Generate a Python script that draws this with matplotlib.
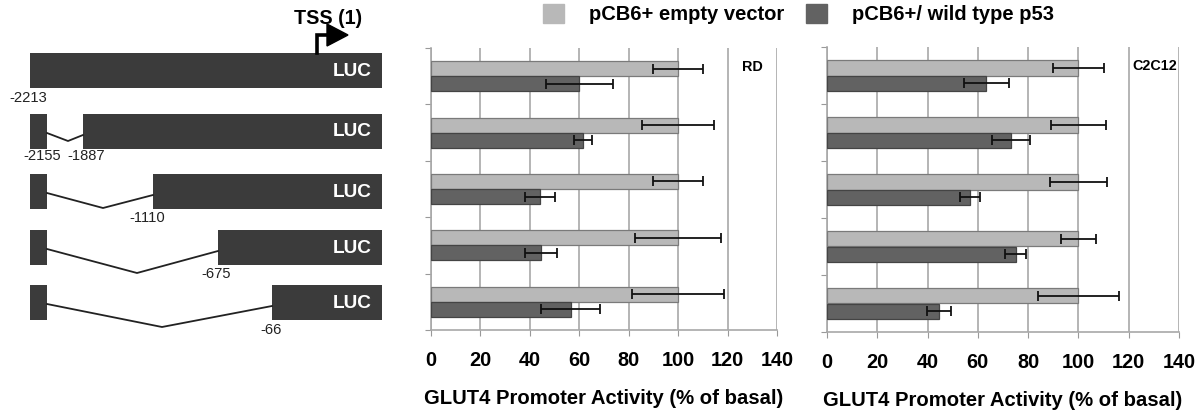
import matplotlib.pyplot as plt
from matplotlib.patches import Rectangle, Polygon

plt.rcParams['font.family'] = ['Liberation Sans', 'DejaVu Sans']

# promoter deletion constructs (schematic, drawn in pixel units of the left panel)
row_y = [70, 131, 191, 247, 302]
block_start = [30, 83, 153, 218, 272]
valley_x = [None, 68, 103, 137, 162]
valley_y = [None, 141, 208, 273, 327]
site_labels = ["-2213", "-2155", "-1887", "-1110", "-675", "-66"]
site_x = [28, 42, 86, 147, 216, 271]
site_y = [98, 156, 156, 218, 274, 330]

# bar chart data
groups = [0, 1, 2, 3, 4]
rd_empty = [100, 100, 100, 100, 100]
rd_empty_err = [10, 14.5, 10, 17.5, 18.7]
rd_p53 = [60, 61.5, 44, 44.5, 56.5]
rd_p53_err = [13.5, 3.5, 6, 6.5, 12]
c2_empty = [100, 100, 100, 100, 100]
c2_empty_err = [10, 11, 11.5, 7, 16]
c2_p53 = [63.3, 73.1, 56.7, 75.1, 44.6]
c2_p53_err = [9, 7.5, 4, 4.2, 4.7]
xticks = [0, 20, 40, 60, 80, 100, 120, 140]

W, H = 1198, 412
fig = plt.figure(figsize=(W / 100, H / 100), dpi=100)

DARK = '#3b3b3b'
LIGHT_BAR = '#b8b8b8'
DARK_BAR = '#626262'

# ---- left schematic ----
ax0 = fig.add_axes([0, 0, 400 / W, 1])
ax0.set_xlim(0, 400)
ax0.set_ylim(H, 0)
ax0.axis('off')
bh = 35
for i, y in enumerate(row_y):
    x0 = block_start[i]
    ax0.add_patch(Rectangle((x0, y - bh / 2), 382 - x0, bh, color=DARK, lw=0))
    ax0.text(372, y + 1, 'LUC', color='white', fontsize=13.7, fontweight='bold',
             ha='right', va='center')
    if i > 0:
        ax0.add_patch(Rectangle((30, y - bh / 2), 17, bh, color=DARK, lw=0))
        ax0.plot([47, valley_x[i], x0], [y + 2, valley_y[i], y + 4],
                 color='#222222', lw=1.3)
for lab, x, y in zip(site_labels, site_x, site_y):
    ax0.text(x, y, lab, fontsize=10.6, ha='center', va='center', color='#222222')

# TSS arrow
ax0.plot([317, 317, 329], [53, 35, 35], color='black', lw=2.6,
         solid_joinstyle='miter')
ax0.add_patch(Polygon([[327, 24], [327, 46], [348, 35]], color='black'))
ax0.text(328, 18, 'TSS (1)', fontsize=14.2, fontweight='bold', ha='center',
         va='center')


def panel(rect, empty, empty_err, p53, p53_err, tag):
    ax = fig.add_axes(rect)
    h = 0.267
    yl = [g - h / 2 for g in groups]
    yd = [g + h / 2 for g in groups]
    ax.barh(yl, empty, height=h, color=LIGHT_BAR, edgecolor='#7a7a7a',
            lw=0.9, zorder=3)
    ax.barh(yd, p53, height=h, color=DARK_BAR, edgecolor='#444444',
            lw=0.9, zorder=3)
    ax.errorbar(empty, yl, xerr=empty_err, fmt='none', ecolor='#111111',
                elinewidth=1.3, capsize=3.5, capthick=1.3, zorder=4)
    ax.errorbar(p53, yd, xerr=p53_err, fmt='none', ecolor='#111111',
                elinewidth=1.3, capsize=3.5, capthick=1.3, zorder=4)
    ax.set_xlim(0, 140)
    ax.set_ylim(4.5, -0.5)
    ax.set_xticks(xticks)
    ax.set_xticklabels([str(t) for t in xticks], fontsize=14.3,
                       fontweight='bold')
    ax.set_yticks([g - 0.5 for g in groups] + [4.5])
    ax.set_yticklabels([])
    ax.tick_params(axis='x', length=4, color='#999999', pad=11)
    ax.tick_params(axis='y', length=4, color='#999999')
    ax.grid(axis='x', color='#a8a8a8', lw=1.2, zorder=0)
    for s in ['top', 'right']:
        ax.spines[s].set_visible(False)
    for s in ['left', 'bottom']:
        ax.spines[s].set_color('#a8a8a8')
        ax.spines[s].set_linewidth(1.2)
    ax.set_xlabel('GLUT4 Promoter Activity (% of basal)', fontsize=14.6,
                  fontweight='bold', labelpad=14)
    ax.text(0.93, 0.934, tag, transform=ax.transAxes, fontsize=10.4,
            fontweight='bold', ha='center', va='center')
    return ax


panel([431 / W, (H - 330) / H, (777 - 431) / W, (330 - 48) / H],
      rd_empty, rd_empty_err, rd_p53, rd_p53_err, 'RD')
panel([827 / W, (H - 332) / H, (1179 - 827) / W, (332 - 47) / H],
      c2_empty, c2_empty_err, c2_p53, c2_p53_err, 'C2C12')

handles = [Rectangle((0, 0), 1, 1, color=LIGHT_BAR),
           Rectangle((0, 0), 1, 1, color=DARK_BAR)]
fig.legend(handles, ['pCB6+ empty vector', 'pCB6+/ wild type p53'],
           loc='upper left', bbox_to_anchor=(543 / W, 1 - 4 / H), ncol=2,
           frameon=False, borderpad=0, borderaxespad=0,
           handlelength=1.05, handleheight=1.05, handletextpad=1.25,
           columnspacing=1.05, prop={'size': 14.5, 'weight': 'bold'})

fig.savefig('out.png', dpi=100)
